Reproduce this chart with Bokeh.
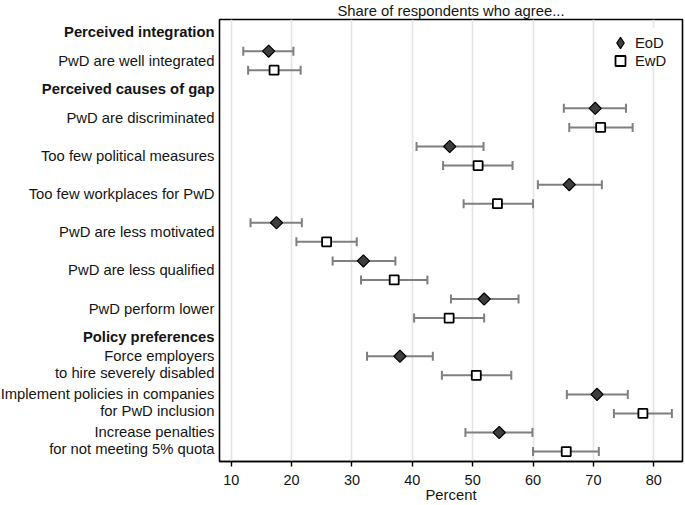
from bokeh.plotting import figure
from bokeh.layouts import row
from bokeh.models import (Range1d, ColumnDataSource, Whisker, TeeHead,
                          Legend, LegendItem, FixedTicker)
from bokeh.core.properties import value
from bokeh.embed import file_html
from bokeh.resources import INLINE
import numpy as np

# ---------------- data ----------------
groups = ["Perceived integration", "Perceived causes of gap", "Policy preferences"]
items = [
    "PwD are well integrated",
    "PwD are discriminated",
    "Too few political measures",
    "Too few workplaces for PwD",
    "PwD are less motivated",
    "PwD are less qualified",
    "PwD perform lower",
    "Force employers\nto hire severely disabled",
    "Implement policies in companies\nfor PwD inclusion",
    "Increase penalties\nfor not meeting 5% quota",
]
item_group = [0, 1, 1, 1, 1, 1, 1, 2, 2, 2]
eod = [16.2, 70.3, 46.2, 66.0, 17.5, 31.9, 51.9, 37.95, 70.6, 54.4]
eod_lo = [12.0, 65.1, 40.7, 60.8, 13.2, 26.8, 46.4, 32.5, 65.6, 48.8]
eod_hi = [20.3, 75.4, 51.8, 71.4, 21.7, 37.2, 57.6, 43.4, 75.7, 59.9]
ewd = [17.1, 71.2, 50.9, 54.1, 25.8, 37.0, 46.1, 50.6, 78.2, 65.5]
ewd_lo = [12.8, 66.0, 45.1, 48.5, 20.8, 31.5, 40.3, 44.9, 73.4, 60.0]
ewd_hi = [21.5, 76.5, 56.6, 60.0, 30.8, 42.5, 51.9, 56.4, 83.0, 70.9]
series_names = ["EoD", "EwD"]
x_ticks = [10, 20, 30, 40, 50, 60, 70, 80]
title_text = "Share of respondents who agree..."
x_title = "Percent"

# ---------------- row layout ----------------
header_y, eod_y, ewd_y = [], [], []
pos = -1.0
for g in range(len(groups)):
    header_y.append(pos)
    pos += 1
    for ig in item_group:
        if ig == g:
            eod_y.append(pos)
            ewd_y.append(pos + 1)
            pos += 2
label_y = [y + (0.42 if "\n" in t else 0.5) for y, t in zip(eod_y, items)]

FONT = "Liberation Sans"
TXT = "#141414"
FS = "14.8px"
TOP, BOTTOM = 19, 43

x0, x1 = 8.06, 84.76
yr = Range1d(21.52, -1.66)

# ---------------- main panel ----------------
p = figure(width=468, height=505, x_range=Range1d(x0, x1), y_range=yr,
           output_backend="svg", toolbar_location=None,
           min_border_left=2, min_border_right=3,
           min_border_top=TOP, min_border_bottom=BOTTOM)
p.background_fill_color = "white"
p.border_fill_color = "white"
p.outline_line_color = "black"
p.outline_line_width = 1.6

p.title.text = title_text
p.title.align = "center"
p.title.text_font = FONT
p.title.text_font_size = FS
p.title.text_font_style = "normal"
p.title.text_color = TXT
p.title.standoff = 1

p.ygrid.visible = False
p.xgrid.ticker = FixedTicker(ticks=x_ticks)
p.xgrid.grid_line_color = "#e4e4e4"
p.xgrid.grid_line_width = 1.6

p.yaxis.visible = False
ax = p.xaxis[0]
ax.ticker = FixedTicker(ticks=x_ticks)
ax.axis_label = x_title
ax.axis_label_text_font = FONT
ax.axis_label_text_font_size = FS
ax.axis_label_text_font_style = "normal"
ax.axis_label_text_color = TXT
ax.axis_label_standoff = -1
ax.major_label_text_font = FONT
ax.major_label_text_font_size = "14.5px"
ax.major_label_text_color = TXT
ax.major_label_standoff = 8
ax.major_tick_out = 5
ax.major_tick_in = 0
ax.minor_tick_line_color = None
ax.major_tick_line_color = "black"
ax.major_tick_line_width = 1.4
ax.axis_line_color = "black"
ax.axis_line_width = 1.6

src_eod = ColumnDataSource(dict(x=eod, y=eod_y, lo=eod_lo, hi=eod_hi))
src_ewd = ColumnDataSource(dict(x=ewd, y=ewd_y, lo=ewd_lo, hi=ewd_hi))

for src in (src_eod, src_ewd):
    w = Whisker(source=src, base="y", lower="lo", upper="hi", dimension="width",
                line_color="#7f7f7f", line_width=2, level="underlay",
                upper_head=TeeHead(size=9, line_color="#7f7f7f", line_width=2),
                lower_head=TeeHead(size=9, line_color="#7f7f7f", line_width=2))
    p.add_layout(w)

EOD_STYLE = dict(fill_color="#3d3d3d", line_color="black", line_width=1.2)
EWD_STYLE = dict(fill_color="white", line_color="black", line_width=1.8)
r1 = p.scatter(x="x", y="y", source=src_eod, marker="square", angle=np.pi / 4,
               size=8.6, **EOD_STYLE)
r2 = p.scatter(x="x", y="y", source=src_ewd, marker="square", size=9, **EWD_STYLE)
# legend key symbols (not plotted: NaN position)
key_src = ColumnDataSource(dict(x=[np.nan], y=[np.nan]))
k1 = p.scatter(x="x", y="y", source=key_src, marker="diamond", **EOD_STYLE)
k2 = p.scatter(x="x", y="y", source=key_src, marker="square", **EWD_STYLE)

LEG = dict(spacing=0, glyph_width=28, label_height=18,
           label_width=38, label_standoff=1, label_text_font=FONT,
           label_text_font_size=FS, label_text_color=TXT,
           border_line_color=None)
leg_a = Legend(items=[LegendItem(label=series_names[0], renderers=[k1])],
               location=(387, 404), padding=8, margin=0, glyph_height=29,
               background_fill_color="white", background_fill_alpha=1.0, **LEG)
leg_b = Legend(items=[LegendItem(label=series_names[1], renderers=[k2])],
               location=(387, 388), padding=5, margin=0, glyph_height=25,
               background_fill_alpha=0.0, **LEG)
p.add_layout(leg_a)
p.add_layout(leg_b)

# ---------------- label panel ----------------
lf = figure(width=217, height=505, x_range=Range1d(0, 1), y_range=yr,
            output_backend="svg", toolbar_location=None,
            min_border_left=0, min_border_right=0,
            min_border_top=TOP, min_border_bottom=BOTTOM)
lf.axis.visible = False
lf.grid.visible = False
lf.outline_line_color = None
lf.background_fill_color = "white"
lf.border_fill_color = "white"

lf.text(x=[1] * len(items), y=label_y, text=items, x_offset=-3,
        text_align="right", text_baseline="middle",
        text_font=value(FONT), text_font_size=FS, text_color=TXT,
        text_line_height=1.05)
lf.text(x=[1] * len(groups), y=header_y, text=groups, x_offset=-3,
        text_align="right", text_baseline="middle",
        text_font=value(FONT), text_font_size=FS, text_color=TXT,
        text_font_style="bold")

layout = row(lf, p, spacing=0)
open("out.html", "w").write(file_html(layout, INLINE))
